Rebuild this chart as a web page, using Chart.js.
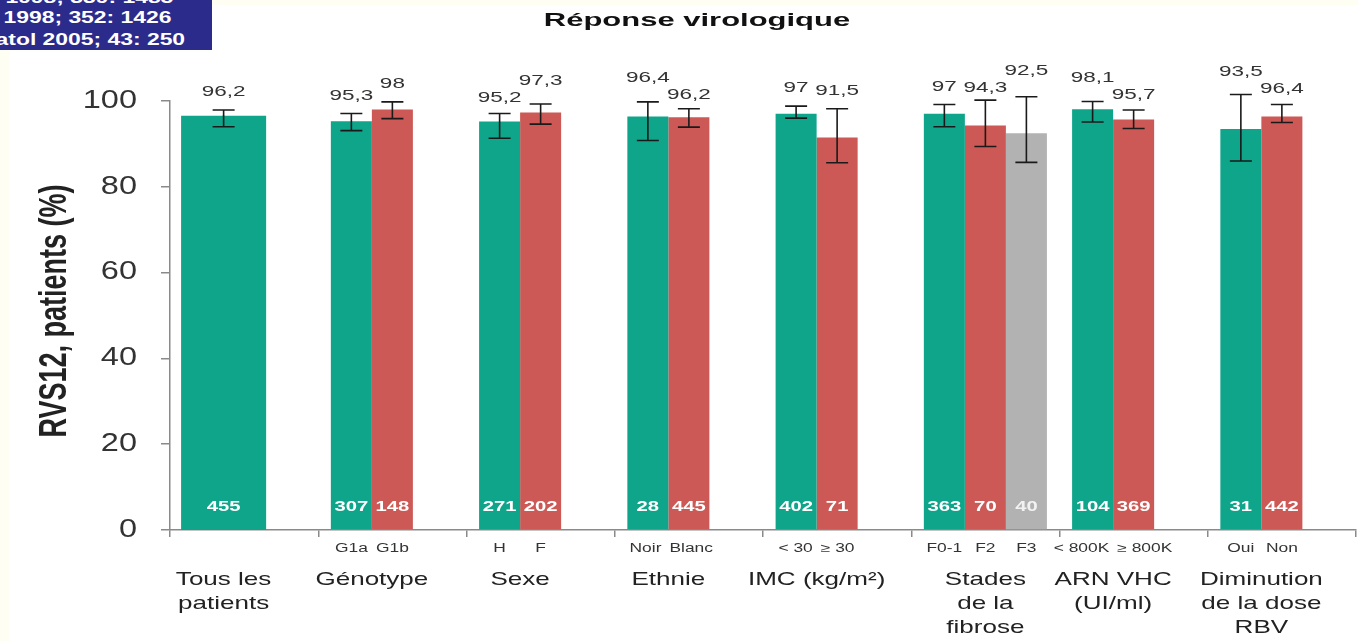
<!DOCTYPE html>
<html lang="fr">
<head>
<meta charset="utf-8">
<title>Réponse virologique</title>
<script src="https://cdn.jsdelivr.net/npm/chart.js@4.4.1/dist/chart.umd.min.js"></script>
<style>
  html, body { margin: 0; padding: 0; }
  body { width: 1358px; height: 641px; position: relative; overflow: hidden; background: #fffef2; }
  #panel { position: absolute; left: 10px; top: 5px; right: 0; bottom: 0; background: #fff; }
  #myChart { position: absolute; left: 0; top: 0; }
  #refs { position: absolute; left: 0; top: 0; width: 212px; height: 50px; background: #2b2b8c; overflow: hidden; }
  #refs div { position: absolute; white-space: nowrap; color: #fff; font: bold 16px "Liberation Sans", Arial, sans-serif; transform: scaleX(1.43); transform-origin: right center; }
</style>
</head>
<body>
<div id="panel"></div>
<canvas id="myChart" width="1358" height="641"></canvas>
<div id="refs">
  <div style="right:39px; top:-11px;">N Engl J Med 1998; 339: 1485</div>
  <div style="right:41px; top:9px;">Lancet 1998; 352: 1426</div>
  <div style="right:27px; top:31px;">J Hepatol 2005; 43: 250</div>
</div>
<script>
// Categories along the x axis
const groups = [
  ['Tous les', 'patients'],
  ['Génotype'],
  ['Sexe'],
  ['Ethnie'],
  ['IMC (kg/m²)'],
  ['Stades', 'de la', 'fibrose'],
  ['ARN VHC', '(UI/ml)'],
  ['Diminution', 'de la dose', 'RBV']
];
const yTicks = [0, 20, 40, 60, 80, 100];

// first subgroup (green); the first category is the whole cohort
const tealNames = ['', 'G1a', 'H', 'Noir', '< 30', 'F0-1', '< 800K', 'Oui'];
const tealValues = [96.2, 95.3, 95.2, 96.4, 97, 97, 98.1, 93.5];
const tealLow = [94.0, 93.1, 91.3, 90.8, 96.0, 94.0, 95.1, 86.0];
const tealHigh = [97.9, 97.1, 97.1, 99.8, 98.8, 99.2, 99.9, 101.5];
const tealN = [455, 307, 271, 28, 402, 363, 104, 31];

// second subgroup (red)
const redNames = ['', 'G1b', 'F', 'Blanc', '≥ 30', 'F2', '≥ 800K', 'Non'];
const redValues = [null, 98, 97.3, 96.2, 91.5, 94.3, 95.7, 96.4];
const redLow = [null, 95.9, 94.6, 93.9, 85.6, 89.4, 93.6, 95.0];
const redHigh = [null, 99.8, 99.3, 98.2, 98.2, 100.2, 97.9, 99.2];
const redN = [null, 148, 202, 445, 71, 70, 369, 442];

// third subgroup (grey), fibrosis only
const greyNames = ['', '', '', '', '', 'F3', '', ''];
const greyValues = [null, null, null, null, null, 92.5, null, null];
const greyLow = [null, null, null, null, null, 85.7, null, null];
const greyHigh = [null, null, null, null, null, 101.0, null, null];
const greyN = [null, null, null, null, null, 40, null, null];

const TEAL = '#0ea58b';
const RED = '#cc5955';
const GREY = '#b2b2b2';

const series = [
  { names: tealNames, values: tealValues, low: tealLow, high: tealHigh, n: tealN },
  { names: redNames, values: redValues, low: redLow, high: redHigh, n: redN },
  { names: greyNames, values: greyValues, low: greyLow, high: greyHigh, n: greyN }
];

const FONT = '"Liberation Sans", Arial, sans-serif';

function fmt(v) {
  return String(v).replace('.', ',');
}

// text drawn wider than its font, like the rest of the slide
function wideText(ctx, text, x, y, font, sx, color, align) {
  ctx.save();
  ctx.translate(x, y);
  ctx.scale(sx, 1);
  ctx.font = font;
  ctx.fillStyle = color;
  ctx.textAlign = align || 'center';
  ctx.textBaseline = 'middle';
  ctx.fillText(text, 0, 0);
  ctx.restore();
}

function textWidth(ctx, text, font, sx) {
  ctx.save();
  ctx.font = font;
  const w = ctx.measureText(text).width * sx;
  ctx.restore();
  return w;
}

// x of a mark; the whole-cohort bar spans the first two slots
function markX(chart, si, i) {
  const el = chart.getDatasetMeta(si).data[i];
  if (i === 0 && si === 0) {
    return (el.x + chart.getDatasetMeta(1).data[0].x) / 2;
  }
  return el.x;
}

const annotate = {
  id: 'annotate',
  afterDatasetsDraw(chart) {
    const ctx = chart.ctx;
    const ys = chart.scales.y;
    const area = chart.chartArea;
    const valueFont = '15px ' + FONT;
    const nFont = 'bold 15px ' + FONT;
    const subFont = '12px ' + FONT;
    const catFont = '19px ' + FONT;

    groups.forEach((lines, i) => {
      const marks = [];
      series.forEach((s, si) => {
        const v = s.values[i];
        if (v === null) return;
        marks.push({ si: si, x: markX(chart, si, i), v: v, lo: s.low[i], hi: s.high[i], n: s.n[i], name: s.names[i] });
      });

      // error bars
      ctx.save();
      ctx.strokeStyle = '#1a1a1a';
      ctx.lineWidth = 1.6;
      marks.forEach(m => {
        const yl = ys.getPixelForValue(m.lo);
        const yh = ys.getPixelForValue(m.hi);
        ctx.beginPath();
        ctx.moveTo(m.x, yl); ctx.lineTo(m.x, yh);
        ctx.moveTo(m.x - 11, yl); ctx.lineTo(m.x + 11, yl);
        ctx.moveTo(m.x - 11, yh); ctx.lineTo(m.x + 11, yh);
        ctx.stroke();
      });
      ctx.restore();

      // value labels above the whiskers, pushed apart when they collide
      marks.forEach(m => {
        m.text = fmt(m.v);
        m.w = textWidth(ctx, m.text, valueFont, 1.5);
        m.ly = Math.min(ys.getPixelForValue(m.hi), ys.getPixelForValue(m.v)) - 18;
      });
      for (let k = 1; k < marks.length; k++) {
        const a = marks[k - 1], b = marks[k];
        if (a.w / 2 + b.w / 2 + 2 > b.x - a.x && Math.abs(a.ly - b.ly) < 16) {
          const mid = (a.ly + b.ly) / 2 - 1;
          if (a.ly <= b.ly) { a.ly = mid - 8.5; b.ly = mid + 8.5; }
          else { b.ly = mid - 8.5; a.ly = mid + 8.5; }
        }
      }
      marks.forEach(m => wideText(ctx, m.text, m.x, m.ly, valueFont, 1.5, '#333'));

      // patient counts inside the bars
      marks.forEach(m => {
        wideText(ctx, String(m.n), m.x, ys.getPixelForValue(0) - 23, nFont, 1.35, m.si === 2 ? '#f2f2f2' : '#fff');
      });

      // subgroup names under the axis
      const subs = marks.map(m => ({ x: m.x, text: m.name, w: textWidth(ctx, m.name, subFont, 1.45) }));
      for (let k = 1; k < subs.length; k++) {
        const a = subs[k - 1], b = subs[k];
        const need = a.w / 2 + b.w / 2 + 8;
        if (need > b.x - a.x) {
          const d = (need - (b.x - a.x)) / 2;
          a.x -= d; b.x += d;
        }
      }
      subs.forEach(s => wideText(ctx, s.text, s.x, area.bottom + 19, subFont, 1.45, '#333'));

      // category label centred on its bars
      const cx = marks.reduce((t, m) => t + m.x, 0) / marks.length;
      lines.forEach((line, li) => {
        wideText(ctx, line, cx, area.bottom + 50 + li * 24, catFont, 1.37, '#222');
      });
    });

    // y tick labels
    ys.ticks.forEach(t => {
      wideText(ctx, String(t.value), ys.right - 33, ys.getPixelForValue(t.value), '25px ' + FONT, 1.3, '#333', 'right');
    });

    // y axis title
    ctx.save();
    ctx.translate(55, 311);
    ctx.rotate(-Math.PI / 2);
    ctx.scale(1, 1.45);
    ctx.font = 'bold 27px ' + FONT;
    ctx.fillStyle = '#222';
    ctx.textAlign = 'center';
    ctx.textBaseline = 'middle';
    ctx.fillText('RVS12, patients (%)', 0, 0);
    ctx.restore();

    // chart title
    wideText(ctx, 'Réponse virologique', 697, 21, 'bold 19px ' + FONT, 1.63, '#111');
  }
};

// the whole-cohort bar is drawn across two slots; overlap them a little so no seam shows
const joinFirst = c => (c.dataIndex === 0 ? 1.5 : 'auto');

const data = {
  labels: groups,
  datasets: [
    {
      label: 'teal',
      data: tealValues,
      backgroundColor: TEAL,
      inflateAmount: joinFirst
    },
    {
      label: 'red',
      // the whole-cohort bar fills the red slot as well
      data: redValues.map((v, i) => (i === 0 ? tealValues[0] : v)),
      backgroundColor: redValues.map((v, i) => (i === 0 ? TEAL : RED)),
      inflateAmount: joinFirst
    },
    {
      label: 'grey',
      data: greyValues,
      backgroundColor: GREY
    }
  ]
};

const config = {
  type: 'bar',
  data,
  options: {
    responsive: false,
    animation: false,
    devicePixelRatio: 1,
    layout: { padding: { top: 101, right: 2, left: 0, bottom: 0 } },
    datasets: {
      bar: { categoryPercentage: 0.83, barPercentage: 1, borderWidth: 0 }
    },
    plugins: {
      legend: { display: false },
      tooltip: { enabled: false },
      title: { display: false }
    },
    scales: {
      x: {
        ticks: { display: false },
        grid: { offset: true, drawOnChartArea: false, drawTicks: true, tickLength: 7, color: '#8a8a8a', lineWidth: 1.5 },
        border: { color: '#8a8a8a', width: 1.5 },
        afterFit(scale) { scale.height = 111; }
      },
      y: {
        min: 0,
        max: 100,
        afterBuildTicks(scale) { scale.ticks = yTicks.map(v => ({ value: v })); },
        ticks: { display: false },
        grid: { drawOnChartArea: false, drawTicks: true, tickLength: 9, color: '#8a8a8a', lineWidth: 1.5 },
        border: { color: '#8a8a8a', width: 1.5 },
        afterFit(scale) { scale.width = 170; }
      }
    }
  },
  plugins: [annotate]
};

var myChart = new Chart(
  document.getElementById('myChart'),
  config
);
</script>
</body>
</html>
